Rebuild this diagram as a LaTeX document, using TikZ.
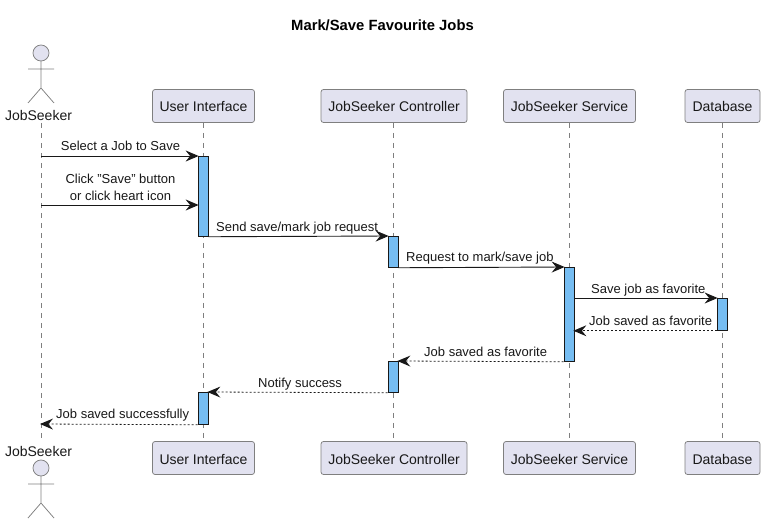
\documentclass[tikz,border=0pt]{standalone}
\usepackage{fontspec}
\setmainfont{Liberation Sans}
\usetikzlibrary{arrows.meta}
\definecolor{pfill}{HTML}{E2E2F0}
\definecolor{pline}{HTML}{7F7F7F}
\definecolor{ink}{HTML}{181818}
\definecolor{barfill}{HTML}{76BDF2}
\tikzset{
  x=1pt,y=-1pt,
  partbox/.style={draw=pline,fill=pfill,rounded corners=2.5pt,line width=0.75pt,minimum height=33pt,inner xsep=0pt,inner ysep=0pt,text height=14pt,text depth=2pt,font=\fontsize{14}{16}\selectfont,text=ink},
  lifeline/.style={draw=pline,line width=0.75pt,dash pattern=on 5pt off 5pt},
  actorline/.style={draw=pline,line width=0.75pt,fill=pfill},
  actorlabel/.style={font=\fontsize{14}{16}\selectfont,text=ink,inner sep=0pt},
  actbar/.style={draw=ink,fill=barfill,line width=0.75pt,minimum width=10pt,inner sep=0pt},
  tip/.style={-{Stealth[length=13pt,width=11pt,inset=4.5pt]}},
  msg/.style={draw=ink,line width=0.9pt,tip},
  ret/.style={draw=ink,line width=0.8pt,dash pattern=on 2pt off 2pt,-{Stealth[length=13pt,width=11pt,inset=4.5pt,fill=ink,line width=0pt]}},
  lbl/.style={font=\fontsize{13}{17}\selectfont,text=ink,inner sep=0pt,align=center},
}
\newcommand{\actorfig}[2]{%
  \draw[actorline] (#1,#2) circle[radius=8];
  \draw[actorline,fill=none] (#1,#2+8) -- (#1,#2+35)
     (#1-13,#2+16) -- (#1+13,#2+16)
     (#1-13,#2+50) -- (#1,#2+35) -- (#1+13,#2+50);
}
\newcommand{\barnode}[4]{\node[actbar,minimum height=#4-#3,anchor=north] (#1) at (#2,#3) {};}
\begin{document}
\begin{tikzpicture}
\useasboundingbox (0,0) rectangle (765,524);
\node[font=\bfseries\fontsize{14.8}{16}\selectfont,text=black,inner sep=0pt] (title) at (382.5,25) {Mark/Save Favourite Jobs};
% participants
\node[actorlabel] (atop) at (38.5,115) {JobSeeker};
\node[partbox,minimum width=102pt] (ui) at (203.5,106) {User Interface};
\node[partbox,minimum width=146pt] (ctl) at (394,106) {JobSeeker Controller};
\node[partbox,minimum width=132pt] (svc) at (569.5,106) {JobSeeker Service};
\node[partbox,minimum width=75pt] (db) at (722.5,106) {Database};
\node[actorlabel] (abot) at (38.5,451.5) {JobSeeker};
\node[partbox,minimum width=102pt] (uib) at (203.5,458) {User Interface};
\node[partbox,minimum width=146pt] (ctlb) at (394,458) {JobSeeker Controller};
\node[partbox,minimum width=132pt] (svcb) at (569.5,458) {JobSeeker Service};
\node[partbox,minimum width=75pt] (dbb) at (722.5,458) {Database};
% lifelines
\coordinate (la) at (41,123);
\coordinate (lb) at (41,441);
\draw[lifeline] (la) -- (lb);
\draw[lifeline] ([xshift=-.5pt]ui.south) -- ([xshift=-.5pt]uib.north);
\draw[lifeline] ([xshift=-1pt]ctl.south) -- ([xshift=-1pt]ctlb.north);
\draw[lifeline] ([xshift=-.5pt]svc.south) -- ([xshift=-.5pt]svcb.north);
\draw[lifeline] ([xshift=-.5pt]db.south) -- ([xshift=-.5pt]dbb.north);
% actors
\actorfig{41}{53}
\actorfig{41}{468}
% activations
\barnode{b1}{203}{156}{236}
\barnode{b2}{393}{236}{267}
\barnode{b3}{569}{267}{361}
\barnode{b4}{722}{298}{330}
\barnode{b5}{393}{361}{392}
\barnode{b6}{203}{392}{424}
% free ends on lifelines
\coordinate (s1) at (41,156);
\coordinate (s2) at (41,205);
\coordinate (s9) at (41,424);
% messages
\draw[msg] (s1) -- ([xshift=1pt]b1.north west);
\draw[msg] (s2) -- ([xshift=1pt]b1.west |- s2);
\draw[msg] (b1.south east) -- ([xshift=1pt]b2.north west);
\draw[msg] (b2.south east) -- ([xshift=1pt]b3.north west);
\draw[msg] (b3.east |- b4.north) -- ([xshift=1pt]b4.north west);
\draw[ret] (b4.south west) -- ([xshift=-1pt]b3.east |- b4.south);
\draw[ret] (b3.south west) -- ([xshift=-1pt]b5.north east);
\draw[ret] (b5.south west) -- ([xshift=-1pt]b6.north east);
\draw[ret] (b6.south west) -- ([xshift=-1pt]s9);
% labels
\node[lbl] (t1) at (120.5,146) {Select a Job to Save};
\node[lbl] (t2) at (120.5,187) {Click "Save" button\\or click heart icon};
\node[lbl,anchor=west] (t3) at (216,228) {Send save/mark job request};
\node[lbl,anchor=west] (t4) at (406,258.5) {Request to mark/save job};
\node[lbl,anchor=west] (t5) at (591,290) {Save job as favorite};
\node[lbl,anchor=west] (t6) at (589,321) {Job saved as favorite};
\node[lbl,anchor=west] (t7) at (424,352) {Job saved as favorite};
\node[lbl,anchor=west] (t8) at (258,384) {Notify success};
\node[lbl,anchor=west] (t9) at (56,415) {Job saved successfully};
\end{tikzpicture}
\end{document}
